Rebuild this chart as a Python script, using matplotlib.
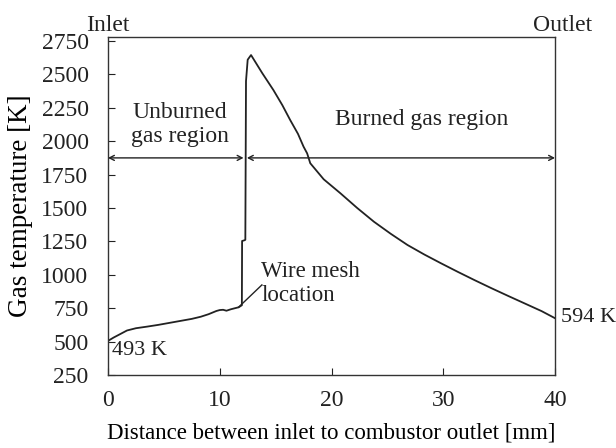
import numpy as np
from matplotlib import pyplot as plt

plt.rcParams['font.family'] = ['Liberation Serif', 'DejaVu Serif']

# distance [mm] and gas temperature [K]
dist = [0.0, 0.5, 1.0, 1.7, 2.5, 3.5, 4.5, 5.5, 6.5, 7.5, 8.3, 9.0, 9.7, 10.0,
        10.3, 10.6, 11.0, 11.7, 11.98, 12.0, 12.2, 12.29, 12.35, 12.5, 12.8,
        13.8, 14.8, 15.6, 16.3, 17.0, 17.5, 17.82, 18.1, 19.3, 20.8, 22.3, 23.8,
        25.3, 26.8, 28.3, 29.8, 31.3, 32.8, 34.3, 35.8, 37.3, 38.8, 40.0]
temp = [505, 530, 552, 583, 600, 612, 625, 640, 655, 670, 686, 705, 729, 736,
        738, 731, 742, 757, 772, 1253, 1258, 1262, 2450, 2610, 2645,
        2510, 2383, 2270, 2159, 2055, 1959, 1909, 1835, 1715, 1610, 1500, 1397,
        1307, 1223, 1152, 1086, 1022, 960, 900, 842, 785, 728, 675]

x_ticks = [0, 10, 20, 30, 40]
y_ticks = [250, 500, 750, 1000, 1250, 1500, 1750, 2000, 2250, 2500, 2750]

arrow_y = 1875
split_left = 12.13
split_right = 12.43

fig = plt.figure(figsize=(6.16, 4.48), dpi=100)
ax = fig.add_axes([0.1753, 0.163, 0.7257, 0.755])

c = '#222222'
ax.plot(dist, temp, color=c, lw=1.3)

ax.set_xlim(0, 40)
ax.set_ylim(250, 2782)
ax.set_xticks(x_ticks)
ax.set_yticks(y_ticks)
ax.tick_params(direction='in', length=5, width=0.8, colors=c, labelsize=17)
ax.tick_params(axis='x', pad=11)
ax.tick_params(axis='y', pad=14)
for s in ax.spines.values():
    s.set_color('#333333')
    s.set_linewidth(1.0)

ax.set_xlabel('Distance between inlet to combustor outlet [mm]', fontsize=16.5, labelpad=8)
ax.set_ylabel('Gas temperature [K]', fontsize=19.5)
ax.yaxis.set_label_coords(-0.168, 0.5)

# region arrows
ap = dict(arrowstyle='<->,head_length=0.35,head_width=0.18', color=c, lw=1.0,
          shrinkA=0, shrinkB=0)
ax.annotate('', xy=(0, arrow_y), xytext=(split_left, arrow_y), arrowprops=ap)
ax.annotate('', xy=(split_right, arrow_y), xytext=(40, arrow_y), arrowprops=ap)

ax.text(6.45, 2125, 'Unburned\ngas region', ha='center', va='center',
        fontsize=17, linespacing=1.2, color=c)
ax.text(28.1, 2159, 'Burned gas region', ha='center', va='center', fontsize=17, color=c)

# wire mesh leader
ax.plot([11.68, 13.77], [757, 924], color=c, lw=1.0)
ax.text(13.7, 935, 'Wire mesh\nlocation', ha='left', va='center',
        fontsize=16.5, linespacing=1.2, color=c)

ax.text(0.35, 430, '493 K', ha='left', va='center', fontsize=16, color=c)
ax.text(40.5, 680, '594 K', ha='left', va='center', fontsize=16, color=c,
        clip_on=False)

fig.text(108 / 616, 1 - 31 / 448, 'Inlet', ha='center', va='baseline',
         fontsize=17, color=c)
fig.text(563 / 616, 1 - 31 / 448, 'Outlet', ha='center', va='baseline',
         fontsize=17, color=c)

fig.savefig('out.png', dpi=100)
